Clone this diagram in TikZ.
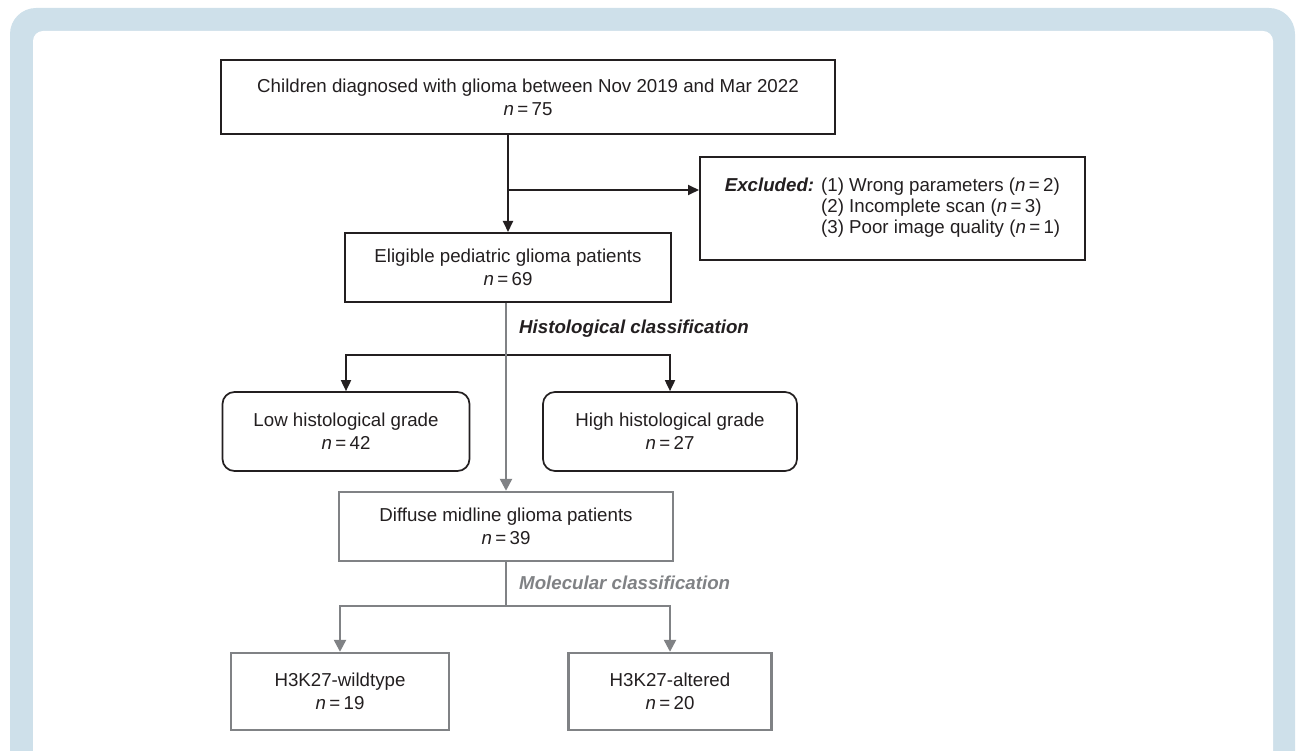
\documentclass[tikz,border=0pt]{standalone}
\usepackage{fontspec}
\setmainfont{Liberation Sans}
\usetikzlibrary{arrows.meta, positioning}
\definecolor{framecol}{RGB}{206,224,234}
\definecolor{inkcol}{RGB}{35,31,32}
\definecolor{greycol}{RGB}{128,130,133}
\newcommand{\ncount}[1]{\textit{n}\hspace{0.18em}=\hspace{0.18em}#1}

\begin{document}
\begin{tikzpicture}[x=1pt, y=1pt, font=\fontsize{18.7}{23}\selectfont]
    % Styles
    \tikzstyle{block} = [rectangle, draw=inkcol, line width=2pt, align=center, inner sep=0pt, text=inkcol]
    \tikzstyle{grade} = [block, rounded corners=12pt, line width=1.7pt]
    \tikzstyle{greyblock} = [block, draw=greycol, line width=2.4pt]
    \tikzstyle{line} = [draw=inkcol, line width=1.8pt, -{Triangle[length=11pt, width=10pt]}]
    \tikzstyle{greyline} = [draw=greycol, line width=2.4pt, -{Triangle[length=12pt, width=12pt]}]
    \tikzstyle{classlabel} = [font=\fontsize{18.7}{23}\selectfont\bfseries\itshape, anchor=west, inner sep=0pt]

    % Frame
    \useasboundingbox (0,0) rectangle (1297,-751);
    \clip (0,0) rectangle (1297,-751);
    \fill [framecol, rounded corners=26pt] (10,-8) rectangle (1295,-800);
    \fill [white, rounded corners=10pt] (33,-31) rectangle (1273,-800);

    % Nodes
    \node [block, minimum width=614pt, minimum height=74pt] (children) at (528,-97) {Children diagnosed with glioma between Nov 2019 and Mar 2022\\\ncount{75}};
    \node [block, minimum width=385pt, minimum height=103pt] (excluded) at (892.5,-208.5) {\renewcommand{\arraystretch}{0.9}\begin{tabular}{@{}l@{\hspace{7pt}}l@{}}
        \textbf{\textit{Excluded:}} & (1) Wrong parameters (\ncount{2})\\
        & (2) Incomplete scan (\ncount{3})\\
        & (3) Poor image quality (\ncount{1})
    \end{tabular}};
    \node [block, minimum width=326pt, minimum height=69pt] (eligible) at (508,-267.5) {Eligible pediatric glioma patients\\\ncount{69}};
    \node [grade, minimum width=247pt, minimum height=79pt] (lowgrade) at (346,-431.5) {Low histological grade\\\ncount{42}};
    \node [grade, minimum width=254pt, minimum height=79pt] (highgrade) at (670,-431.5) {High histological grade\\\ncount{27}};
    \node [greyblock, minimum width=334pt, minimum height=69pt] (midline) at (506,-526.5) {Diffuse midline glioma patients\\\ncount{39}};
    \node [greyblock, minimum width=218pt, minimum height=77pt] (wildtype) at (340,-691.5) {H3K27-wildtype\\\ncount{19}};
    \node [greyblock, minimum width=203pt, minimum height=77pt] (altered) at (670,-691.5) {H3K27-altered\\\ncount{20}};

    \node [classlabel, text=inkcol] (histlabel) at (519,-329) {Histological classification};
    \node [classlabel, text=greycol] (mollabel) at (519,-583) {Molecular classification};

    \coordinate (exsplit) at (508,-190);
    \coordinate (histsplit) at (508,-355);
    \coordinate (molsplit) at (506,-606);

    % Paths
    \path [draw=inkcol, line width=1.8pt] (children.south -| exsplit) -- (exsplit);
    \path [line] (exsplit) -- (eligible);
    \path [line] (exsplit) -- (exsplit -| excluded.west);
    \path [line] (histsplit) -| (lowgrade);
    \path [line] (histsplit) -| (highgrade);
    \path [greyline] (eligible.south -| midline) -- (midline);
    \path [draw=greycol, line width=2.4pt] (midline) -- (molsplit);
    \path [greyline] (molsplit) -| (wildtype);
    \path [greyline] (molsplit) -| (altered);
\end{tikzpicture}
\end{document}
